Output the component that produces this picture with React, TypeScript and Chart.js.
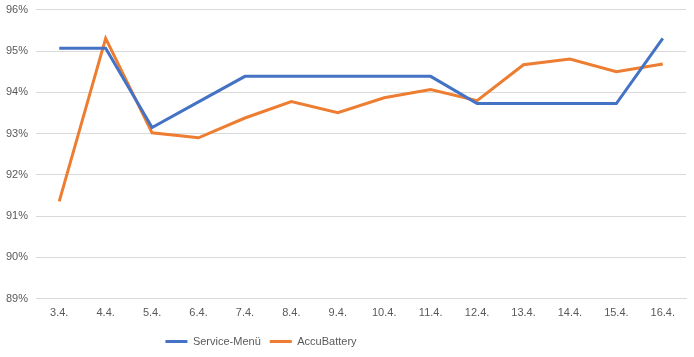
import React, { useEffect, useRef } from "react";
import { Chart, registerables } from "chart.js";

Chart.register(...registerables);

const categories = ["3.4.", "4.4.", "5.4.", "6.4.", "7.4.", "8.4.", "9.4.", "10.4.", "11.4.", "12.4.", "13.4.", "14.4.", "15.4.", "16.4."];
const serviceMenu = [95.07, 95.07, 93.15, 93.77, 94.39, 94.39, 94.39, 94.39, 94.39, 93.73, 93.73, 93.73, 93.73, 95.31];
const accuBattery = [91.36, 95.31, 93.02, 92.9, 93.38, 93.78, 93.51, 93.87, 94.07, 93.8, 94.67, 94.81, 94.5, 94.69];
const yMin = 89;
const yMax = 96;
const yStep = 1;

const legendShift = {
  id: "legendShift",
  afterLayout(chart: any) {
    const l = chart.legend;
    if (l) {
      l.left -= 81;
      l.right -= 81;
    }
  },
};

export default function App() {
  const ref = useRef<HTMLCanvasElement>(null);
  useEffect(() => {
    document.body.style.margin = "0";
    const ctx = ref.current!;
    const family = "'Liberation Sans', Arial, sans-serif";
    const font = { family, size: 11 };
    const chart = new Chart(ctx, {
      type: "line",
      data: {
        labels: categories,
        datasets: [
          {
            label: "Service-Menü",
            data: serviceMenu,
            borderColor: "#4472C4",
            backgroundColor: "#4472C4",
            borderWidth: 3,
            pointRadius: 0,
            tension: 0,
          },
          {
            label: "AccuBattery",
            data: accuBattery,
            borderColor: "#ED7D31",
            backgroundColor: "#ED7D31",
            borderWidth: 3,
            pointRadius: 0,
            tension: 0,
          },
        ],
      },
      plugins: [legendShift],
      options: {
        animation: false,
        responsive: false,
        maintainAspectRatio: false,
        layout: { padding: { top: 0, left: -2, right: 8, bottom: 0 } },
        plugins: {
          tooltip: { enabled: false },
          legend: {
            position: "bottom",
            labels: {
              font,
              color: "#595959",
              boxWidth: 22,
              boxHeight: 3,
              padding: 9,
              generateLabels: (c: any) =>
                Chart.defaults.plugins.legend.labels.generateLabels(c).map((l: any) => ({ ...l, lineWidth: 0 })),
            },
          },
        },
        scales: {
          x: {
            offset: true,
            grid: { display: false, drawTicks: false },
            border: { display: true, color: "#d9d9d9" },
            ticks: { font: { family, size: 11, lineHeight: 1.3 }, color: "#595959", maxRotation: 0, padding: 7 },
          },
          y: {
            min: yMin,
            max: yMax,
            grid: { color: "#d9d9d9", drawTicks: false },
            border: { display: false },
            ticks: {
              stepSize: yStep,
              font: { family, size: 11, lineHeight: 0.35 },
              color: "#595959",
              padding: 8,
              callback: (v: any) => v + "%",
            },
          },
        },
      },
    });
    return () => chart.destroy();
  }, []);
  return (
    <div style={{ width: 694, height: 357, background: "#fff" }}>
      <canvas ref={ref} width={694} height={357} />
    </div>
  );
}
